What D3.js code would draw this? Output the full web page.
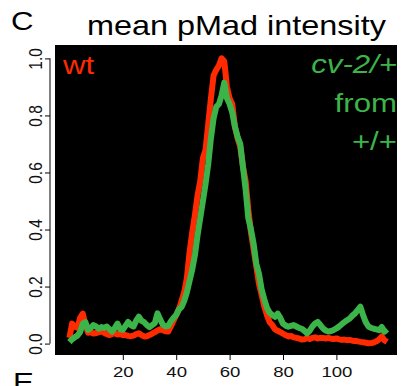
<!DOCTYPE html>
<html>
<head>
<meta charset="utf-8">
<script src="https://cdn.jsdelivr.net/npm/d3@7"></script>
<style>
  body { margin: 0; background: #fff; }
  text { font-family: "Liberation Sans", Arial, Helvetica, sans-serif; }
</style>
</head>
<body>
<div id="wrapper"></div>
<script>
// position along the profile (0..119)
const positions = d3.range(0, 120)

const wtValues = [
  0.02, 0.07, 0.06, 0.055, 0.09, 0.105, 0.065, 0.038, 0.04, 0.035,
  0.037, 0.04, 0.042, 0.038, 0.033, 0.03, 0.034, 0.036, 0.032, 0.034,
  0.03, 0.03, 0.027, 0.026, 0.028, 0.033, 0.036, 0.03, 0.025, 0.026,
  0.03, 0.035, 0.04, 0.046, 0.05, 0.047, 0.043, 0.042, 0.06, 0.08,
  0.1, 0.12, 0.15, 0.18, 0.23, 0.32, 0.39, 0.45, 0.52, 0.57,
  0.65, 0.68, 0.77, 0.86, 0.94, 0.96, 0.975, 1.0, 0.99, 0.9,
  0.86, 0.84, 0.76, 0.72, 0.69, 0.62, 0.57, 0.47, 0.39, 0.33,
  0.27, 0.21, 0.17, 0.13, 0.1, 0.075, 0.065, 0.05, 0.045, 0.04,
  0.035, 0.03, 0.025, 0.027, 0.022, 0.02, 0.018, 0.014, 0.015, 0.02,
  0.016, 0.02, 0.022, 0.018, 0.02, 0.02, 0.018, 0.02, 0.017, 0.016,
  0.018, 0.015, 0.013, 0.014, 0.012, 0.013, 0.01, 0.009, 0.008, 0.006,
  0.005, 0.003, 0.001, 0.002, 0.004, 0.008, 0.015, 0.025, 0.012, 0.006
]

const cvValues = [
  0.005, 0.015, 0.022, 0.028, 0.04, 0.07, 0.075, 0.048, 0.055, 0.065,
  0.06, 0.052, 0.058, 0.055, 0.06, 0.05, 0.042, 0.055, 0.07, 0.05,
  0.048, 0.062, 0.076, 0.065, 0.06, 0.08, 0.094, 0.08, 0.075, 0.065,
  0.058, 0.065, 0.072, 0.106, 0.085, 0.066, 0.06, 0.062, 0.078, 0.09,
  0.1, 0.12, 0.128, 0.15, 0.18, 0.22, 0.26, 0.31, 0.38, 0.44,
  0.5, 0.56, 0.63, 0.72, 0.79, 0.83, 0.84, 0.87, 0.915, 0.86,
  0.84, 0.81, 0.76, 0.725, 0.7, 0.62, 0.54, 0.44, 0.4, 0.35,
  0.28, 0.245, 0.19, 0.155, 0.125, 0.108, 0.1, 0.094, 0.105, 0.09,
  0.07, 0.063, 0.059, 0.062, 0.065, 0.06, 0.055, 0.052, 0.045, 0.036,
  0.045, 0.06, 0.07, 0.076, 0.065, 0.053, 0.046, 0.042, 0.044, 0.048,
  0.053, 0.06, 0.068, 0.075, 0.082, 0.088, 0.098, 0.106, 0.118, 0.129,
  0.1, 0.075, 0.06, 0.055, 0.052, 0.05, 0.047, 0.058, 0.042, 0.05
]

const xTicks = [20, 40, 60, 80, 100]
const yTicks = [0, 0.2, 0.4, 0.6, 0.8, 1.0]
const legendLines = ["cv-2/+", "from", "+/+"]

const width = 401
const height = 386
const sx = 1.2   // text in the figure is a bit wider than tall

const wrapper = d3.select("#wrapper")
  .append("svg")
  .attr("width", width)
  .attr("height", height)

const box = {left: 55, right: 397, top: 45, bottom: 355}

const xScale = d3.scaleLinear()
  .domain([-5.4, 122.7])
  .range([box.left, box.right])

const yScale = d3.scaleLinear()
  .domain([-0.04, 1.047])
  .range([box.bottom, box.top])

wrapper.append("rect")
  .attr("x", box.left)
  .attr("y", box.top)
  .attr("width", box.right - box.left)
  .attr("height", box.bottom - box.top)
  .attr("fill", "black")

const lineGen = values => d3.line()
  .x((d, i) => xScale(positions[i]))
  .y(d => yScale(d))(values)

wrapper.append("path")
  .attr("d", lineGen(wtValues))
  .attr("fill", "none")
  .attr("stroke", "#ff2a00")
  .attr("stroke-width", 6)
  .attr("stroke-linejoin", "round")

wrapper.append("path")
  .attr("d", lineGen(cvValues))
  .attr("fill", "none")
  .attr("stroke", "#3cb44a")
  .attr("stroke-width", 6)
  .attr("stroke-linejoin", "round")

// y axis
const yAxis = wrapper.append("g")
  .attr("transform", "translate(50,0)")
  .call(d3.axisLeft(yScale).tickValues(yTicks).tickSize(5).tickSizeOuter(0)
    .tickFormat(d3.format(".1f")))
yAxis.select(".domain").attr("d", `M0,${yScale(0)}V${yScale(1)}`)
yAxis.selectAll("text")
  .attr("x", null).attr("dy", null)
  .attr("text-anchor", "middle")
  .attr("transform", `translate(-8.3,0) scale(${sx},1) rotate(-90)`)
  .style("font-size", "15.5px")
  .attr("fill", "#111")

// x axis
const xAxis = wrapper.append("g")
  .attr("transform", `translate(0,${box.bottom})`)
  .call(d3.axisBottom(xScale).tickValues(xTicks).tickSize(5).tickSizeOuter(0))
xAxis.select(".domain").remove()
xAxis.selectAll("text")
  .attr("y", null).attr("dy", null)
  .attr("transform", `translate(0,22) scale(${sx},1)`)
  .style("font-size", "15.5px")
  .attr("fill", "#111")

// title and panel letters
wrapper.append("text")
  .attr("transform", `translate(236.5,35) scale(${sx},1)`)
  .attr("text-anchor", "middle")
  .style("font-size", "27px")
  .text("mean pMad intensity")

wrapper.append("text")
  .attr("transform", `translate(11,29.5) scale(${sx},1)`)
  .style("font-size", "26px")
  .text("C")

// next panel letter, cut by the bottom edge as in the figure
wrapper.append("text")
  .attr("transform", `translate(13,390.5) scale(${sx},1)`)
  .style("font-size", "26px")
  .text("E")

// legend
wrapper.append("text")
  .attr("transform", `translate(63,74) scale(${sx},1)`)
  .style("font-size", "26px")
  .attr("fill", "#ff2a00")
  .text("wt")

wrapper.selectAll(".leg")
  .data(legendLines)
  .join("text")
  .attr("class", "leg")
  .attr("transform", (d, i) => `translate(397,${73 + i * 38.5}) scale(${sx},1)`)
  .attr("text-anchor", "end")
  .style("font-size", "26px")
  .style("font-style", (d, i) => i == 0 ? "italic" : "normal")
  .attr("fill", "#3cb44a")
  .text(d => d)
</script>
</body>
</html>
